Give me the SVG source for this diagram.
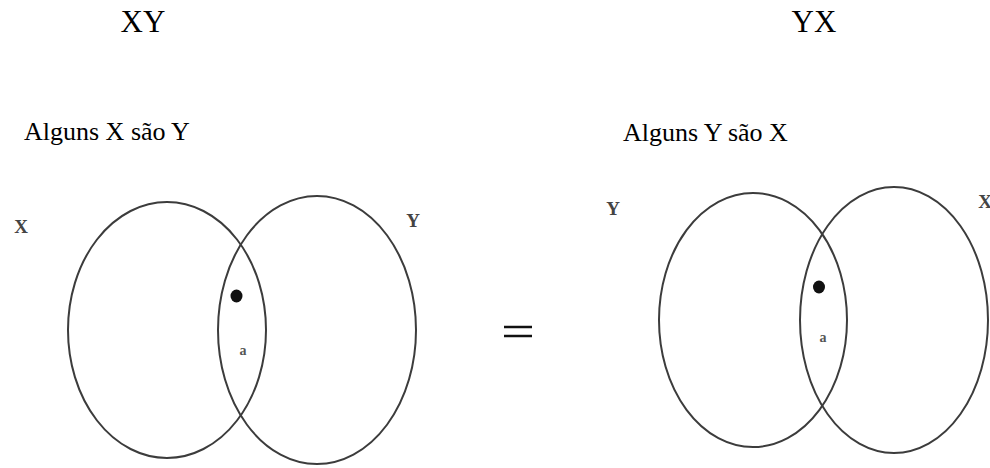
<svg xmlns="http://www.w3.org/2000/svg" width="990" height="468" viewBox="0 0 990 468">
<style>
.title{font-family:"Liberation Serif","Times New Roman",serif;font-size:31px;fill:#000;text-anchor:middle}
.stmt{font-family:"Liberation Serif","Times New Roman",serif;font-size:26px;fill:#000}
.set{font-family:"Liberation Serif","Times New Roman",serif;font-size:19px;font-weight:bold;fill:#444;text-anchor:middle}
.small{font-family:"Liberation Serif","Times New Roman",serif;font-size:14px;font-weight:bold;fill:#555;text-anchor:middle}
.circ{fill:none;stroke:#3c3c3c;stroke-width:2}
.dot{fill:#111}
.eq{stroke:#111;stroke-width:2.5}
</style>
<rect width="990" height="468" fill="#fff"/>
<text class="title" x="143" y="32">XY</text>
<text class="title" x="814" y="32">YX</text>
<text class="stmt" x="24" y="140">Alguns X são Y</text>
<text class="stmt" x="623" y="141">Alguns Y são X</text>

<g id="left-diagram">
  <g id="set-x-left">
    <ellipse class="circ" cx="167" cy="330" rx="99" ry="128"/>
    <text class="set" x="21" y="233">X</text>
  </g>
  <g id="set-y-left">
    <ellipse class="circ" cx="317" cy="330" rx="99" ry="134"/>
    <text class="set" x="413" y="227">Y</text>
  </g>
  <g id="intersection-left">
    <ellipse class="dot" cx="236.5" cy="296" rx="6" ry="6.5"/>
    <text class="small" x="243" y="355">a</text>
  </g>
</g>

<g id="equals">
  <line class="eq" x1="504" y1="327" x2="532" y2="327"/>
  <line class="eq" x1="504" y1="336" x2="532" y2="336"/>
</g>

<g id="right-diagram">
  <g id="set-y-right">
    <ellipse class="circ" cx="753" cy="320" rx="94" ry="127"/>
    <text class="set" x="613" y="215">Y</text>
  </g>
  <g id="set-x-right">
    <ellipse class="circ" cx="894" cy="320" rx="94" ry="133"/>
    <text class="set" x="985" y="208">X</text>
  </g>
  <g id="intersection-right">
    <ellipse class="dot" cx="819" cy="287" rx="6" ry="6.5"/>
    <text class="small" x="823" y="342">a</text>
  </g>
</g>
</svg>
